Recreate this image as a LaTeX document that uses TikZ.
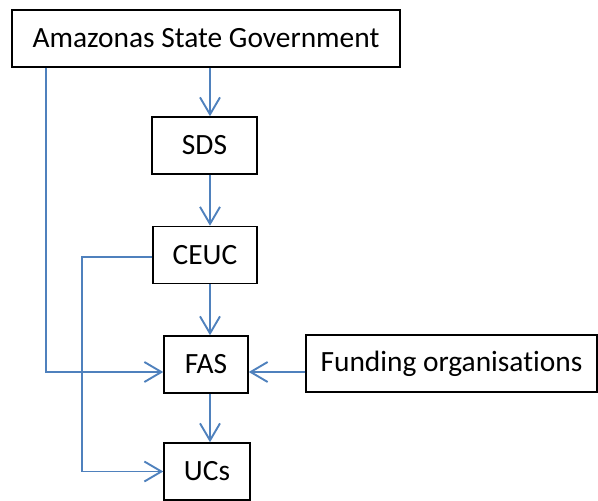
\documentclass[tikz,border=0pt]{standalone}
\usepackage{fontspec}
\setmainfont[Ligatures=NoCommon]{Carlito}
\usepackage{xcolor}
\definecolor{orgblue}{RGB}{79, 129, 189}
\usetikzlibrary{arrows.meta}

\begin{document}
\begin{tikzpicture}[x=0.5pt, y=-0.5pt, >={Straight Barb[length=8.5pt, width=10pt]},
    orgbox/.style={draw=black, line width=0.75pt, fill=white, inner sep=0pt,
        minimum height=28.5pt, font=\fontsize{14.7}{17}\selectfont},
    link/.style={->, orgblue, line width=0.95pt}]

% === Marco ===
\useasboundingbox (0, 0) rectangle (598, 501);

% === Cajas ===
\node[orgbox, minimum width=194pt] (asg) at (206, 38.5) {Amazonas State Government};
\node[orgbox, minimum width=52.5pt] (sds) at (204.5, 145.5) {SDS};
\node[orgbox, minimum width=52pt] (ceuc) at (205, 255) {CEUC};
\node[orgbox, minimum width=42pt] (fas) at (206, 364.5) {FAS};
\node[orgbox, minimum width=43pt] (ucs) at (207, 471.5) {UCs};
\node[orgbox, minimum width=145.5pt] (fund) at (451.5, 363.5) {Funding organisations};

% === Puntos de apoyo ===
\coordinate (spine) at (210, 0);
\coordinate (left1) at (46, 372);
\coordinate (left2) at (82, 257);

% === Flechas verticales ===
\draw[link] (asg.south -| spine) -- (sds.north -| spine);
\draw[link] (sds.south -| spine) -- (ceuc.north -| spine);
\draw[link] (ceuc.south -| spine) -- (fas.north -| spine);
\draw[link] (fas.south -| spine) -- (ucs.north -| spine);

% === Flechas laterales ===
\draw[link] (asg.south -| left1) -- (left1) -- (fas.west |- left1);
\draw[link] (fund.west |- left1) -- (fas.east |- left1);
\draw[link, -] (ceuc.west |- left2) -- (left2) -- (left2 |- ucs.west);
\draw[link] (left2 |- ucs.west) -- (ucs.west);

\end{tikzpicture}
\end{document}
